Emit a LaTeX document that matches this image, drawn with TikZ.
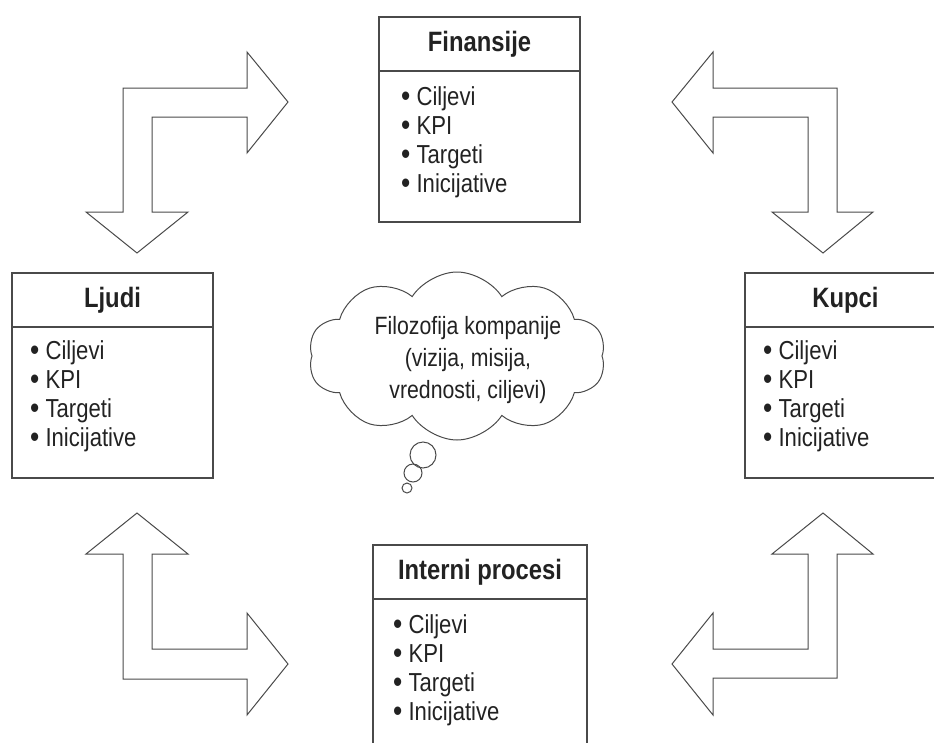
\documentclass[tikz,border=0pt]{standalone}
\usepackage{fontspec}
\setmainfont{Liberation Sans}[FakeStretch=0.85]
\usepackage{xcolor}
\usetikzlibrary{positioning,shapes.symbols}
\definecolor{bsLine}{HTML}{4A4A4A}
\definecolor{bsText}{HTML}{222222}
\newcommand{\bsdot}{\smash{\fontsize{31}{29}\selectfont\raisebox{-1.5pt}{\textbullet}}\ }
\tikzset{
    % Boxes of the four perspectives
    headbox/.style={rectangle,draw=bsLine,line width=1.2pt,minimum width=201pt,minimum height=54pt,inner sep=0pt,outer sep=0pt,font=\fontsize{28}{30}\selectfont\bfseries,text=bsText},
    bodybox/.style={rectangle,draw=bsLine,line width=1.2pt,minimum width=201pt,minimum height=151pt,inner sep=0pt,outer sep=0pt},
    itemlist/.style={align=left,inner sep=0pt,font=\fontsize{26}{29}\selectfont,text=bsText},
    % Block arrows and the cloud
    blockarrow/.style={draw=bsLine,line width=1pt,line join=miter,fill=white},
    thought/.style={cloud,cloud puffs=10,cloud puff arc=115,aspect=1.75,draw=bsLine,line width=1pt,minimum width=297pt,minimum height=168pt,inner sep=0pt},
    bubble/.style={circle,draw=bsLine,line width=1pt,inner sep=0pt}
}

\begin{document}
\begin{tikzpicture}[x=1pt,y=-1pt]

\clip (0,0) rectangle (934,742);

% Finansije (top)
\node[headbox] at (479.5,44) (fin_head) {Finansije};
\node[bodybox,below=0pt of fin_head] (fin_body) {};
\node[itemlist,below right=15pt and 22pt of fin_body.north west] (fin_list) {\bsdot Ciljevi\\\bsdot KPI\\\bsdot Targeti\\\bsdot Inicijative};

% Ljudi (left)
\node[headbox] at (112.5,300) (ljudi_head) {Ljudi};
\node[bodybox,below=0pt of ljudi_head] (ljudi_body) {};
\node[itemlist,below right=13pt and 18pt of ljudi_body.north west] (ljudi_list) {\bsdot Ciljevi\\\bsdot KPI\\\bsdot Targeti\\\bsdot Inicijative};

% Kupci (right)
\node[headbox] at (845.5,300) (kupci_head) {Kupci};
\node[bodybox,below=0pt of kupci_head] (kupci_body) {};
\node[itemlist,below right=13pt and 18pt of kupci_body.north west] (kupci_list) {\bsdot Ciljevi\\\bsdot KPI\\\bsdot Targeti\\\bsdot Inicijative};

% Interni procesi (bottom)
\node[headbox,minimum width=214pt] at (480,572) (proc_head) {Interni procesi};
\node[bodybox,minimum width=214pt,below=0pt of proc_head] (proc_body) {};
\node[itemlist,below right=15pt and 20pt of proc_body.north west] (proc_list) {\bsdot Ciljevi\\\bsdot KPI\\\bsdot Targeti\\\bsdot Inicijative};

% Company philosophy in the middle
\node[thought] at (457,356) (philo_cloud) {};
\node[align=center,font=\fontsize{25}{32}\selectfont,text=bsText] at (468,360) (philo) {Filozofija kompanije\\(vizija, misija,\\vrednosti, ciljevi)};
\node[bubble,minimum size=26pt] at (423,455) (bubble_a) {};
\node[bubble,minimum size=18pt] at (413,473) (bubble_b) {};
\node[bubble,minimum size=10pt] at (407,488) (bubble_c) {};

% Corner arrows
\draw[blockarrow] (288,102) -- (247,153) -- (247,117) -- (152,117) -- (152,212) -- (188,212) -- (137,253) -- (86,212) -- (123,212) -- (123,88) -- (247,88) -- (247,52) -- cycle;
\draw[blockarrow] (672,102) -- (713,52) -- (713,88) -- (837,88) -- (837,212) -- (873,212) -- (823,253) -- (772,212) -- (808,212) -- (808,117) -- (713,117) -- (713,153) -- cycle;
\draw[blockarrow] (137,513) -- (188,554) -- (152,554) -- (152,649) -- (247,649) -- (247,613) -- (288,664) -- (247,715) -- (247,679) -- (123,679) -- (123,554) -- (86,554) -- cycle;
\draw[blockarrow] (823,513) -- (873,554) -- (837,554) -- (837,678) -- (713,678) -- (713,715) -- (672,664) -- (713,613) -- (713,649) -- (808,649) -- (808,554) -- (772,554) -- cycle;

\end{tikzpicture}
\end{document}
